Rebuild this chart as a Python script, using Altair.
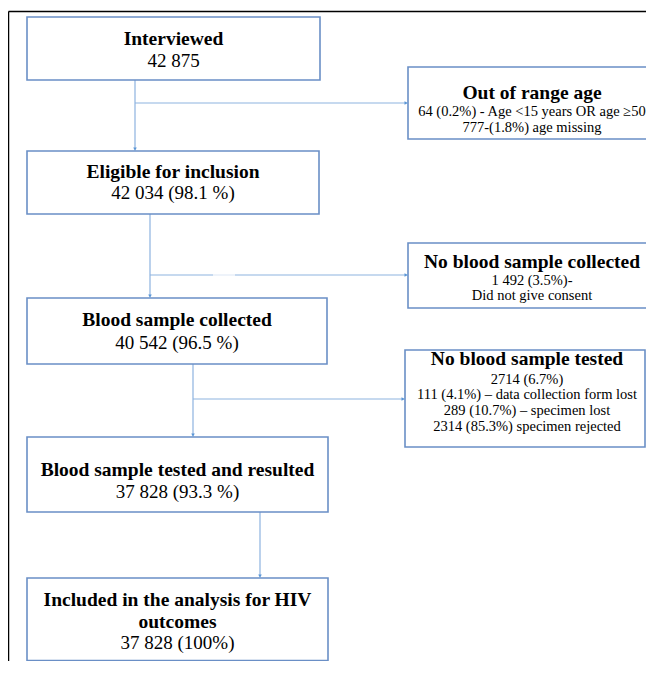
import altair as alt
import pandas as pd

# ---------------- content ----------------
main_titles = [["Interviewed"], ["Eligible for inclusion"], ["Blood sample collected"],
               ["Blood sample tested and resulted"], ["Included in the analysis for HIV", "outcomes"]]
main_counts = ["42 875", "42 034 (98.1 %)", "40 542 (96.5 %)", "37 828 (93.3 %)", "37 828 (100%)"]
side_titles = ["Out of range age", "No blood sample collected", "No blood sample tested"]
side_details = [
    ["64 (0.2%) - Age <15 years OR age \u226550", "777-(1.8%) age missing"],
    ["1 492 (3.5%)-", "Did not give consent"],
    ["2714 (6.7%)", "111 (4.1%) \u2013 data collection form lost",
     "289 (10.7%) \u2013 specimen lost", "2314 (85.3%) specimen rejected"],
]

# ---------------- layout (page pixels) ----------------
main_x0 = [27, 27, 27, 27, 27]
main_x1 = [320, 319, 327, 328, 328]
main_y0 = [17, 151, 298, 437, 578]
main_y1 = [80, 214, 364, 512, 660.5]
main_line_y = [[39, 61], [172, 193], [320, 343], [470, 492], [600, 622, 643]]
side_x0 = [408, 408, 405]
side_x1 = [720, 720, 645]
side_cx = [532, 532, 527]
side_y0 = [67, 243, 350]
side_y1 = [139, 308, 447]
side_line_y = [[93, 112, 128], [262, 281, 296], [359, 380, 395, 411, 427]]
trunk_x = [135, 150, 193, 260]
branch_y = [103, 275, 399]
branch_gap = [None, (213, 235), None]

W, H = 638, 653
X0, Y0 = 8, 8

xs = alt.Scale(domain=[X0, X0 + W], nice=False, zero=False)
ys = alt.Scale(domain=[Y0, Y0 + H], nice=False, zero=False, reverse=True)

TITLE_SIZE = 19.5
COUNT_SIZE = 19
SIDE_SIZE = 14.5

# boxes
boxes = []
for i in range(5):
    boxes.append(dict(x=main_x0[i], x2=main_x1[i], y=main_y0[i], y2=main_y1[i]))
for i in range(3):
    boxes.append(dict(x=side_x0[i], x2=side_x1[i], y=side_y0[i], y2=side_y1[i]))
box_df = pd.DataFrame(boxes)

# texts
bold_rows, norm_rows = [], []
for i in range(5):
    cx = (main_x0[i] + main_x1[i]) / 2
    ly = main_line_y[i]
    for j, t in enumerate(main_titles[i]):
        bold_rows.append(dict(x=cx, y=ly[j], text=t, size=TITLE_SIZE))
    norm_rows.append(dict(x=cx, y=ly[len(main_titles[i])], text=main_counts[i], size=COUNT_SIZE))
for i in range(3):
    cx = side_cx[i]
    bold_rows.append(dict(x=cx, y=side_line_y[i][0], text=side_titles[i], size=TITLE_SIZE))
    for j, t in enumerate(side_details[i]):
        norm_rows.append(dict(x=cx, y=side_line_y[i][j + 1], text=t, size=SIDE_SIZE))
bold_df = pd.DataFrame(bold_rows)
norm_df = pd.DataFrame(norm_rows)

# connectors
lines = []
faint = []
for i in range(4):
    lines.append(dict(x=trunk_x[i], x2=trunk_x[i], y=main_y1[i], y2=main_y0[i + 1] - 3))
for i in range(3):
    end = side_x0[i] - 3
    if branch_gap[i] is None:
        lines.append(dict(x=trunk_x[i], x2=end, y=branch_y[i], y2=branch_y[i]))
    else:
        g0, g1 = branch_gap[i]
        lines.append(dict(x=trunk_x[i], x2=g0, y=branch_y[i], y2=branch_y[i]))
        lines.append(dict(x=g1, x2=end, y=branch_y[i], y2=branch_y[i]))
        faint.append(dict(x=g0, x2=g1, y=branch_y[i], y2=branch_y[i]))
line_df = pd.DataFrame(lines)
faint_df = pd.DataFrame(faint)

down_df = pd.DataFrame([dict(x=trunk_x[i], y=main_y0[i + 1]) for i in range(4)])
right_df = pd.DataFrame([dict(x=side_x0[i], y=branch_y[i]) for i in range(3)])

frame_df = pd.DataFrame([
    dict(x=8.5, x2=X0 + W, y=11.5, y2=11.5),
    dict(x=8.5, x2=8.5, y=11.5, y2=Y0 + H),
])

enc_xy = dict(x=alt.X("x:Q", scale=xs, axis=None), y=alt.Y("y:Q", scale=ys, axis=None))

frame = alt.Chart(frame_df).mark_rule(color="#000000", strokeWidth=1.5).encode(
    x2="x2:Q", y2="y2:Q", **enc_xy)

rects = alt.Chart(box_df).mark_rect(fill="white", stroke="#6a8fc6", strokeWidth=1.6).encode(
    x2="x2:Q", y2="y2:Q", **enc_xy)

conn = alt.Chart(line_df).mark_rule(color="#8db3df", strokeWidth=1.2).encode(
    x2="x2:Q", y2="y2:Q", **enc_xy)
conn_faint = alt.Chart(faint_df).mark_rule(color="#e3ecf7", strokeWidth=1.2).encode(
    x2="x2:Q", y2="y2:Q", **enc_xy)

down = alt.Chart(down_df).mark_point(
    shape="M -0.5 -1 L 0.5 -1 L 0 0 Z", filled=True, color="#5b96d6", opacity=1, size=49
).encode(**enc_xy)
right = alt.Chart(right_df).mark_point(
    shape="M -1 -0.5 L -1 0.5 L 0 0 Z", filled=True, color="#5b96d6", opacity=1, size=49
).encode(**enc_xy)

bold_txt = alt.Chart(bold_df).mark_text(
    font="Liberation Serif", fontWeight="bold", align="center", baseline="middle", color="#000000"
).encode(text="text:N", size=alt.Size("size:Q", scale=None, legend=None), **enc_xy)
norm_txt = alt.Chart(norm_df).mark_text(
    font="Liberation Serif", align="center", baseline="middle", color="#000000"
).encode(text="text:N", size=alt.Size("size:Q", scale=None, legend=None), **enc_xy)

chart = alt.layer(frame, conn, conn_faint, rects, down, right, bold_txt, norm_txt).properties(
    width=W, height=H, padding=0, autosize=alt.AutoSizeParams(type="none"),
    background="white"
).configure_view(stroke=None)

chart.save("out.html", embed_options={"renderer": "svg", "actions": False})
